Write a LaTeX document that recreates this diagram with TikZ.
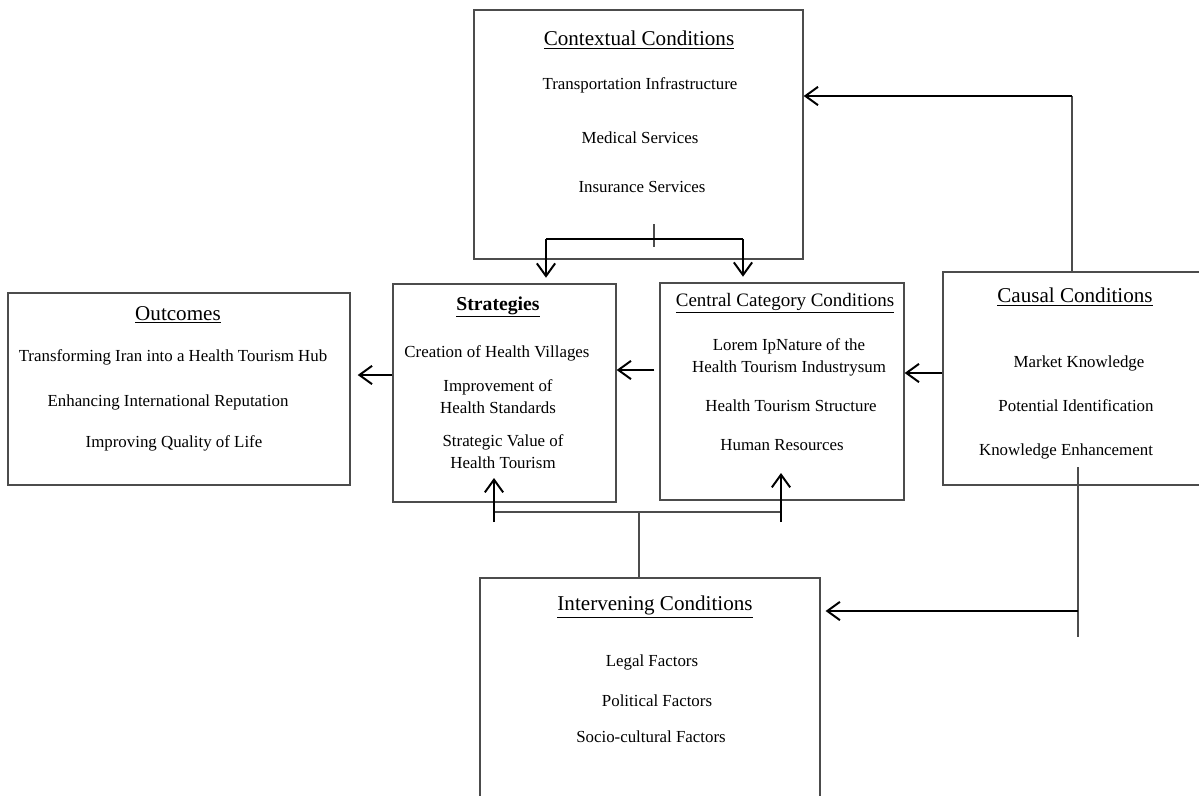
\documentclass[tikz,border=0pt]{standalone}
\usepackage{fontspec}
\setmainfont{Liberation Serif}
\usetikzlibrary{arrows.meta}

\begin{document}
\begin{tikzpicture}[x=0.025cm,y=-0.025cm,
    box/.style={draw=black!70, line width=0.9pt, inner sep=0pt},
    txt/.style={align=center, inner sep=0pt, font=\fontsize{12}{15.5}\selectfont},
    ttl/.style={inner sep=0pt, font=\fontsize{15}{18}\selectfont},
    ln/.style={draw=black!70, line width=0.9pt},
    arr/.style={black, line width=1.4pt, -{Straight Barb[length=9pt,width=13pt]}}]
    \useasboundingbox (0,0) rectangle (1199,796);
    \clip (0,0) rectangle (1199,796);

    % boxes
    \node[box, minimum width=8.225cm, minimum height=6.225cm] (ctx) at (638.5,134.5) {};
    \node[box, minimum width=5.575cm, minimum height=5.45cm] (strat) at (504.5,393) {};
    \node[box, minimum width=6.1cm, minimum height=5.425cm] (cent) at (782,391.5) {};
    \node[box, minimum width=6.8cm, minimum height=5.325cm] (cau) at (1079,378.5) {};
    \node[box, minimum width=8.55cm, minimum height=4.8cm] (out) at (179,389) {};
    \node[box, minimum width=8.5cm, minimum height=6.3cm] (intv) at (650,704) {};

    % contextual
    \node[ttl] (ctxT) at (639,40) {\underline{Contextual Conditions}};
    \node[txt] (ctx1) at (640,85) {Transportation Infrastructure};
    \node[txt] (ctx2) at (640,138) {Medical Services};
    \node[txt] (ctx3) at (642,187) {Insurance Services};

    % strategies
    \node[ttl, font=\fontsize{14}{17}\selectfont\bfseries] (stratT) at (498,307) {\underline{Strategies}};
    \node[txt] (strat1) at (497,353) {Creation of Health Villages};
    \node[txt] (strat2) at (498,397) {Improvement of\\Health Standards};
    \node[txt] (strat3) at (503,452) {Strategic Value of\\Health Tourism};

    % central category
    \node[ttl, font=\fontsize{13.5}{16}\selectfont] (centT) at (785,303) {\underline{Central Category Conditions}};
    \node[txt] (cent1) at (789,357) {Lorem IpNature of the\\Health Tourism Industrysum};
    \node[txt] (cent2) at (791,406) {Health Tourism Structure};
    \node[txt] (cent3) at (782,445) {Human Resources};

    % causal
    \node[ttl] (cauT) at (1075,297) {\underline{Causal Conditions}};
    \node[txt] (cau1) at (1079,363) {Market Knowledge};
    \node[txt] (cau2) at (1076,406) {Potential Identification};
    \node[txt] (cau3) at (1066,451) {Knowledge Enhancement};

    % outcomes
    \node[ttl] (outT) at (178,315) {\underline{Outcomes}};
    \node[txt] (out1) at (173,357) {Transforming Iran into a Health Tourism Hub};
    \node[txt] (out2) at (168,402) {Enhancing International Reputation};
    \node[txt] (out3) at (174,443) {Improving Quality of Life};

    % intervening
    \node[ttl] (intvT) at (655,607) {\underline{Intervening Conditions}};
    \node[txt] (intv1) at (652,662) {Legal Factors};
    \node[txt] (intv2) at (657,701) {Political Factors};
    \node[txt] (intv3) at (651,737) {Socio-cultural Factors};

    % junction points
    \coordinate (ctxTick) at (654,224);
    \coordinate (ctxJ) at (654,239);
    \coordinate (ctxL) at (546,239);
    \coordinate (ctxR) at (743,239);
    \coordinate (cauUp) at (1072,96);
    \coordinate (midA) at (920,373);
    \coordinate (midB) at (640,370);
    \coordinate (midC) at (370,375);
    \coordinate (intvJ) at (639,512);
    \coordinate (intvL) at (494,522);
    \coordinate (intvR) at (781,522);
    \coordinate (tipL) at (494,478);
    \coordinate (tipR) at (781,473);
    \coordinate (cauTop) at (1078,467);
    \coordinate (cauBot) at (1078,637);
    \coordinate (cauJ) at (1078,611);

    % contextual -> strategies, central
    \draw[ln] (ctxTick) -- (ctxTick |- 0,247);
    \draw[ln, black, line width=1.2pt] (ctxL) -- (ctxR);
    \draw[arr, shorten >=4pt] (ctxL) -- (ctxL |- strat.north);
    \draw[arr, shorten >=4pt] (ctxR) -- (ctxR |- cent.north);

    % causal -> contextual
    \draw[ln] (cau.north -| cauUp) -- (cauUp);
    \draw[arr] (cauUp) -- (cauUp -| ctx.east);

    % causal -> central -> strategies -> outcomes
    \draw[arr] (midA -| cau.west) -- (midA -| cent.east);
    \draw[arr, shorten <=3.5pt] (midB -| cent.west) -- (midB -| strat.east);
    \draw[arr, shorten >=5pt] (midC -| strat.west) -- (midC -| out.east);

    % intervening -> strategies, central
    \draw[ln] (intv.north -| intvJ) -- (intvJ);
    \draw[ln] (intvJ -| intvL) -- (intvJ -| intvR);
    \draw[arr] (intvL) -- (tipL);
    \draw[arr] (intvR) -- (tipR);

    % causal -> intervening
    \draw[ln] (cauTop) -- (cauBot);
    \draw[arr, shorten >=3.5pt] (cauJ) -- (cauJ -| intv.east);
\end{tikzpicture}
\end{document}
